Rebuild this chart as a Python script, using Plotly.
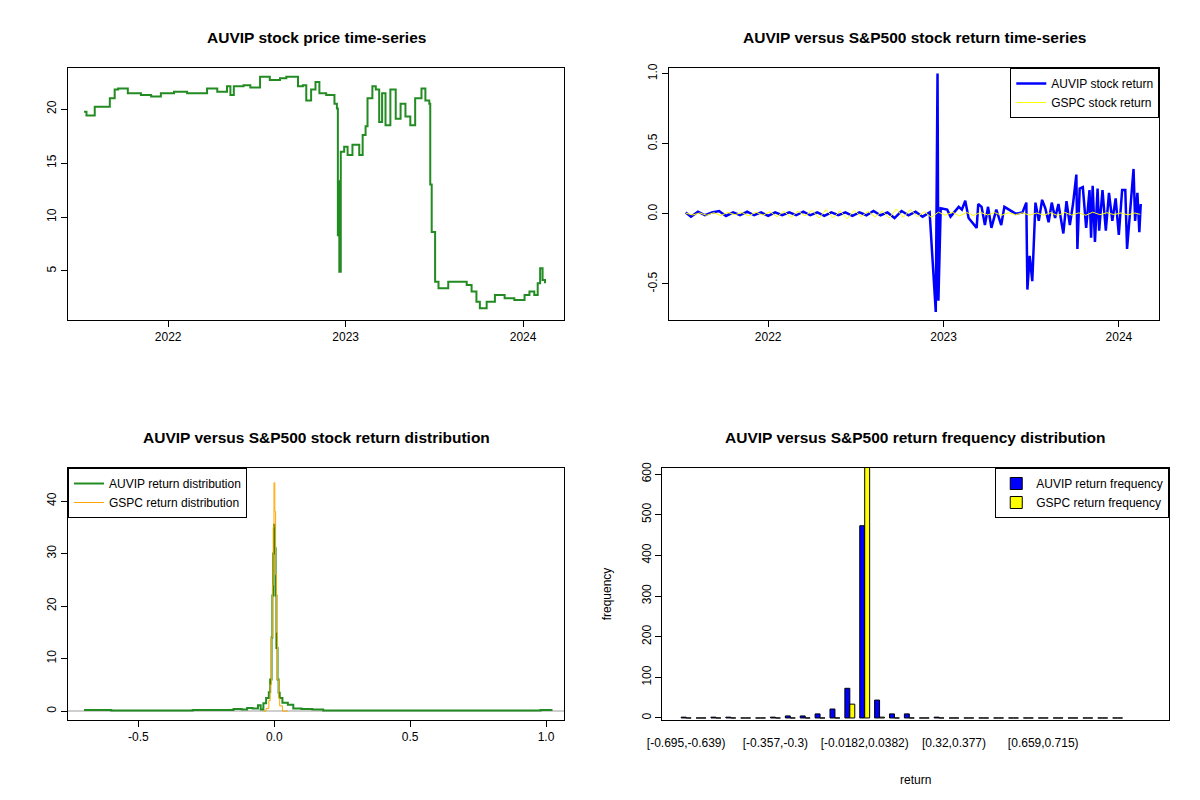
import plotly.graph_objects as go
import pandas as pd
import numpy as np

# ---------- data ----------
price_dates = ["2021-07-12","2021-07-17","2021-08-03","2021-08-24","2021-09-03","2021-09-13","2021-09-20",
 "2021-10-10","2021-11-06","2021-11-27","2021-12-17","2022-01-13","2022-02-09","2022-03-09","2022-03-22",
 "2022-04-12","2022-05-02","2022-05-09","2022-05-16","2022-06-05","2022-06-19","2022-07-09","2022-07-29",
 "2022-08-19","2022-09-01","2022-09-18","2022-09-25","2022-10-05","2022-10-12","2022-10-22","2022-10-31",
 "2022-11-08","2022-11-22","2022-12-02","2022-12-09","2022-12-14","2022-12-16","2022-12-18","2022-12-19",
 "2022-12-22","2022-12-29","2023-01-05","2023-01-15","2023-01-29","2023-02-05","2023-02-11","2023-02-15",
 "2023-02-25","2023-03-04","2023-03-11","2023-03-17","2023-03-24","2023-04-03","2023-04-14","2023-04-24",
 "2023-05-04","2023-05-14","2023-05-24","2023-06-06","2023-06-14","2023-06-22","2023-06-24","2023-06-27",
 "2023-07-04","2023-07-11","2023-07-31","2023-08-21","2023-09-07","2023-09-17","2023-09-27","2023-10-04",
 "2023-10-18","2023-11-04","2023-11-24","2023-12-14","2024-01-04","2024-01-14","2024-01-24","2024-01-31",
 "2024-02-05","2024-02-10","2024-02-15"]
price_values = [19.75,19.4,20.2,20.2,21.0,21.8,21.9,21.45,21.3,21.15,21.45,21.6,21.45,21.45,21.9,
 21.6,22.1,21.3,22.1,22.2,22.0,23.0,22.7,22.85,23.0,23.0,22.1,22.2,20.8,21.8,22.5,
 21.45,21.3,21.3,20.5,20.06,8.3,13.3,4.94,16.05,16.5,15.74,16.7,15.74,17.6,18.4,21.0,
 22.1,21.8,18.8,21.45,18.5,21.8,19.1,20.5,19.3,18.5,21.0,21.9,20.8,20.5,13.0,8.6,
 4.0,3.4,4.0,4.0,3.7,3.1,2.16,1.54,2.16,2.77,2.47,2.31,2.77,3.1,2.77,3.86,5.25,4.17,3.86]

# AUVIP returns (time in decimal years)
auvip_ret_t = [2021.53,2021.56,2021.60,2021.64,2021.68,2021.72,2021.76,2021.80,2021.84,2021.88,2021.92,
 2021.96,2022.00,2022.04,2022.08,2022.12,2022.16,2022.20,2022.24,2022.28,2022.32,2022.36,2022.40,2022.44,
 2022.48,2022.52,2022.56,2022.60,2022.64,2022.68,2022.72,2022.76,2022.80,2022.84,2022.88,2022.92,
 2022.955,2022.965,2022.970,2022.983,2023.020,2023.039,2023.086,2023.104,2023.123,2023.142,2023.188,
 2023.197,2023.216,2023.235,2023.253,2023.272,2023.300,2023.328,2023.346,2023.374,2023.412,2023.449,
 2023.471,2023.477,2023.490,2023.505,2023.523,2023.542,2023.561,2023.579,2023.598,2023.616,2023.635,
 2023.654,2023.682,2023.700,2023.719,2023.737,2023.756,2023.762,2023.775,2023.793,2023.812,2023.831,
 2023.840,2023.849,2023.862,2023.877,2023.886,2023.905,2023.924,2023.942,2023.961,2023.980,2023.998,
 2024.017,2024.035,2024.045,2024.063,2024.082,2024.091,2024.104,2024.115,2024.123]
auvip_ret = [0.01,-0.02,0.015,-0.01,0.01,0.02,-0.015,0.01,-0.01,0.015,-0.01,
 0.01,-0.015,0.01,-0.01,0.01,-0.01,0.015,-0.01,0.01,-0.015,0.01,-0.01,0.01,
 -0.015,0.01,-0.01,0.02,-0.01,0.01,-0.03,0.02,-0.01,0.015,-0.02,0.01,
 -0.70,1.0,-0.62,0.04,0.03,-0.02,0.05,0.03,0.094,-0.03,-0.10,
 0.07,0.05,-0.08,0.05,-0.10,0.03,-0.08,0.05,0.03,0.0,0.01,
 0.08,-0.54,-0.30,-0.48,0.08,-0.05,0.10,0.04,-0.06,0.08,-0.03,
 0.07,-0.14,0.09,-0.08,0.07,0.28,-0.25,0.18,0.19,-0.10,0.17,
 -0.17,0.20,-0.20,0.18,-0.12,0.17,-0.12,0.15,-0.05,0.11,-0.15,
 0.17,0.17,-0.25,0.04,0.32,-0.05,0.15,-0.13,0.07]

gspc_ret_t = [2021.53,2021.57,2021.61,2021.65,2021.69,2021.73,2021.77,2021.81,2021.85,2021.89,2021.93,
 2021.97,2022.01,2022.05,2022.09,2022.13,2022.17,2022.21,2022.25,2022.29,2022.33,2022.37,2022.41,2022.45,
 2022.49,2022.53,2022.57,2022.61,2022.65,2022.69,2022.73,2022.77,2022.81,2022.85,2022.89,2022.93,2022.97,
 2023.01,2023.05,2023.09,2023.13,2023.17,2023.21,2023.25,2023.29,2023.33,2023.37,2023.41,2023.45,2023.49,
 2023.53,2023.57,2023.61,2023.65,2023.69,2023.73,2023.77,2023.81,2023.85,2023.89,2023.93,2023.97,2024.01,
 2024.05,2024.09,2024.12]
gspc_ret = [0.005,-0.008,0.006,-0.01,0.008,-0.012,0.01,-0.006,0.009,-0.015,0.012,
 -0.01,0.015,-0.02,0.018,-0.025,0.02,-0.015,0.025,-0.03,0.03,-0.028,0.022,-0.035,
 0.025,-0.02,0.018,-0.022,0.02,-0.03,0.035,-0.025,0.03,-0.02,0.015,-0.025,0.012,
 -0.01,0.012,-0.015,0.01,-0.012,0.01,-0.008,0.009,-0.01,0.008,-0.006,0.007,-0.009,
 0.006,-0.01,0.008,-0.012,0.01,-0.009,0.007,-0.01,0.012,-0.006,0.008,-0.005,0.006,
 -0.007,0.006,-0.004]

# density curves
auvip_dens_x = [-0.70,-0.60,-0.50,-0.40,-0.30,-0.20,-0.15,-0.12,-0.10,-0.08,-0.06,-0.05,-0.04,-0.03,-0.02,
 -0.015,-0.01,-0.007,-0.004,-0.001,0.002,0.005,0.008,0.012,0.016,0.02,0.03,0.05,0.07,0.10,0.14,0.18,0.30,
 0.60,0.90,0.98,1.00,1.02]
auvip_dens_y = [0.2,0.1,0.1,0.1,0.2,0.2,0.4,0.3,0.6,0.5,1.1,0.3,1.5,2.5,3.6,6.0,14.0,22.0,30.0,35.5,31.0,
 22.0,12.0,6.0,3.5,2.5,1.6,1.2,0.5,0.4,0.3,0.1,0.1,0.1,0.1,0.2,0.2,0.0]
gspc_dens_x = [-0.04,-0.03,-0.02,-0.015,-0.01,-0.007,-0.004,-0.001,0.002,0.005,0.008,0.012,0.016,0.02,0.03,0.05]
gspc_dens_y = [0.0,0.5,2.0,5.0,14.0,24.0,35.0,43.5,38.0,26.0,15.0,6.0,2.5,1.0,0.0,0.0]

# histogram
auvip_freq = [2,0,2,2,0,0,2,5,5,10,22,73,473,44,10,10,0,2,0,0,0,0,0,0,0,0,0,0,0,0]
gspc_freq = [0,0,0,0,0,0,0,0,0,0,0,34,628,2,0,0,0,0,0,0,0,0,0,0,0,0,0,0,0,0]
label_bins = [0,6,12,18,24]
label_text = ["[-0.695,-0.639)","[-0.357,-0.3)","[-0.0182,0.0382)","[0.32,0.377)","[0.659,0.715)"]

# ---------- figure ----------
def dec2date(t):
    t = np.asarray(t)
    return pd.to_datetime("2022-01-01") + pd.to_timedelta((t - 2022) * 365.25, unit="D")

FONT = "Liberation Sans, Arial, sans-serif"
fig = go.Figure()

fig.add_trace(go.Scatter(x=pd.to_datetime(price_dates), y=price_values, mode="lines", line_shape="hv",
                         line=dict(color="#228B22", width=2), showlegend=False, xaxis="x", yaxis="y"))

fig.add_trace(go.Scatter(x=dec2date(auvip_ret_t), y=auvip_ret, mode="lines", line=dict(color="blue", width=2.5),
                         name="AUVIP stock return", legend="legend", xaxis="x2", yaxis="y2"))
fig.add_trace(go.Scatter(x=dec2date(gspc_ret_t), y=gspc_ret, mode="lines", line=dict(color="yellow", width=1),
                         name="GSPC stock return", legend="legend", xaxis="x2", yaxis="y2"))

fig.add_trace(go.Scatter(x=[-0.76, 1.07], y=[0, 0], mode="lines", line=dict(color="#BEBEBE", width=1.5),
                         showlegend=False, xaxis="x3", yaxis="y3"))
fig.add_trace(go.Scatter(x=auvip_dens_x, y=auvip_dens_y, mode="lines", line_shape="hv",
                         line=dict(color="#228B22", width=2), name="AUVIP return distribution",
                         legend="legend2", xaxis="x3", yaxis="y3"))
fig.add_trace(go.Scatter(x=gspc_dens_x, y=gspc_dens_y, mode="lines", line_shape="hv",
                         line=dict(color="orange", width=1), name="GSPC return distribution",
                         legend="legend2", xaxis="x3", yaxis="y3"))

cats = list(range(len(auvip_freq)))
fig.add_trace(go.Bar(x=cats, y=auvip_freq, marker=dict(color="blue", line=dict(color="black", width=1)),
                     name="AUVIP return frequency", legend="legend3", xaxis="x4", yaxis="y4"))
fig.add_trace(go.Bar(x=cats, y=gspc_freq, marker=dict(color="yellow", line=dict(color="black", width=1)),
                     name="GSPC return frequency", legend="legend3", xaxis="x4", yaxis="y4"))

ax = dict(showline=True, mirror=True, linecolor="black", linewidth=1, ticks="outside", ticklen=6,
          tickcolor="black", showgrid=False, zeroline=False, automargin=False,
          tickfont=dict(size=12, color="black"))
yax = dict(ax, tickangle=-90)

leg = dict(bordercolor="black", borderwidth=1, bgcolor="white", font=dict(size=12, color="black"),
           xanchor="right", yanchor="top", tracegroupgap=0)

XL = [0.05, 0.4633]
XR = [0.551, 0.9594]
XH = [0.5453, 0.9677]
YT = [0.61, 0.925]
YB = [0.11, 0.425]

fig.update_layout(
    width=1200, height=800, margin=dict(l=0, r=0, t=0, b=0, autoexpand=False),
    paper_bgcolor="white", plot_bgcolor="white", font=dict(family=FONT, color="black"),
    bargap=1/3, bargroupgap=0, barmode="group",
    xaxis=dict(ax, domain=XL, anchor="y", range=["2021-06-09", "2024-03-25"],
               tickvals=["2022-01-01", "2023-01-01", "2024-01-01"], ticktext=["2022", "2023", "2024"]),
    yaxis=dict(yax, domain=YT, anchor="x", range=[0.46, 23.8], tickvals=[5, 10, 15, 20]),
    xaxis2=dict(ax, domain=XR, anchor="y2", range=["2021-06-09", "2024-03-25"],
                tickvals=["2022-01-01", "2023-01-01", "2024-01-01"], ticktext=["2022", "2023", "2024"]),
    yaxis2=dict(yax, domain=YT, anchor="x2", range=[-0.757, 1.04],
                tickvals=[-0.5, 0, 0.5, 1.0], ticktext=["-0.5", "0.0", "0.5", "1.0"]),
    xaxis3=dict(ax, domain=XL, anchor="y3", range=[-0.759, 1.066],
                tickvals=[-0.5, 0, 0.5, 1.0], ticktext=["-0.5", "0.0", "0.5", "1.0"]),
    yaxis3=dict(yax, domain=YB, anchor="x3", range=[-1.7, 46.3], tickvals=[0, 10, 20, 30, 40]),
    xaxis4=dict(ax, domain=XH, anchor="y4", range=[-1.6, 32.47], tickmode="array",
                tickvals=label_bins, ticktext=label_text, ticks="", ticklen=0, ticklabelstandoff=12,
                title=dict(text="return", font=dict(size=12), standoff=26)),
    yaxis4=dict(yax, domain=YB, anchor="x4", range=[-5, 615],
                tickvals=[0, 100, 200, 300, 400, 500, 600],
                title=dict(text="frequency", font=dict(size=12), standoff=25)),
    legend=dict(leg, x=XR[1], y=YT[1]),
    legend2=dict(leg, x=XL[0], y=YB[1], xanchor="left"),
    legend3=dict(leg, x=XH[1], y=YB[1]),
    annotations=[
        dict(text="<b>AUVIP stock price time-series</b>", x=0.2567, y=0.9637),
        dict(text="<b>AUVIP versus S&P500 stock return time-series</b>", x=0.755, y=0.9637),
        dict(text="<b>AUVIP versus S&P500 stock return distribution</b>", x=0.2567, y=0.4637),
        dict(text="<b>AUVIP versus S&P500 return frequency distribution</b>", x=0.756, y=0.4637),
    ],
)
fig.update_annotations(xref="paper", yref="paper", showarrow=False, xanchor="center", yanchor="middle",
                       font=dict(size=15.5))
fig.write_html("out.html")
